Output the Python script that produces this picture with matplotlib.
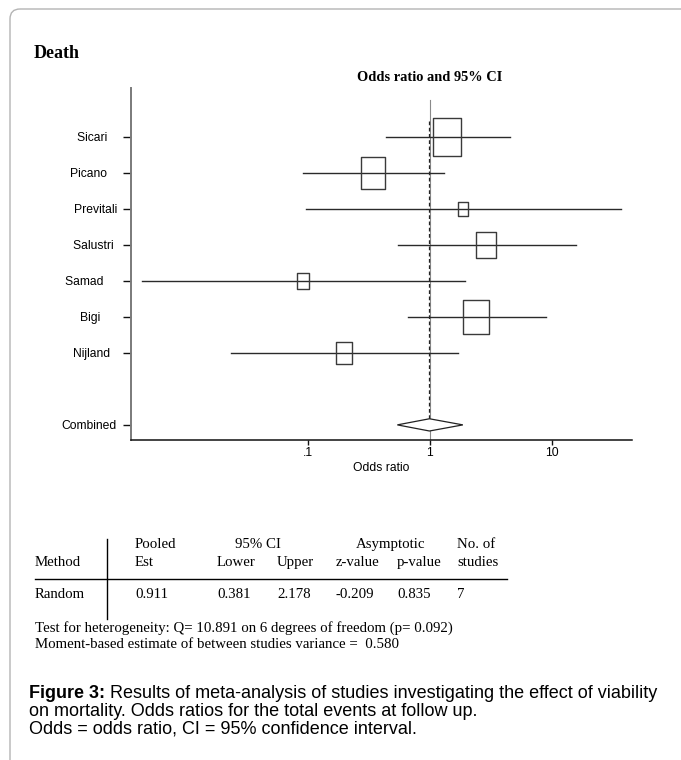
import matplotlib
matplotlib.use('Agg')
import matplotlib.pyplot as plt
import numpy as np
from matplotlib.path import Path
from matplotlib.patches import FancyBboxPatch

# study level odds ratios and 95% CI
studies = ['Sicari', 'Picano', 'Previtali', 'Salustri', 'Samad', 'Bigi', 'Nijland']
odds = [1.39, 0.344, 1.85, 2.88, 0.0918, 2.40, 0.199]
ci_low = [0.434, 0.0905, 0.0957, 0.547, 0.00438, 0.656, 0.0235]
ci_high = [4.53, 1.30, 36.6, 15.6, 1.92, 8.93, 1.70]
weights = [27.2, 20.3, 3.9, 12.4, 4.5, 23.0, 8.8]

# combined diamond as drawn: lower, estimate, upper
combined = [0.54, 0.99, 1.86]

ytick_labels = ['Sicari   ', 'Picano   ', 'Previtali', 'Salustri ', 'Samad    ',
                'Bigi     ', 'Nijland  ', 'Combined']
xticks = [0.1, 1, 10]
xtick_labels = ['.1', '1', '10']

# summary table
head1 = ['', 'Pooled', '95% CI', '', 'Asymptotic', '', 'No. of']
head2 = ['Method', 'Est', 'Lower', 'Upper', 'z-value', 'p-value', 'studies']
row1 = ['Random', '0.911', '0.381', '2.178', '-0.209', '0.835', '7']
notes = ['Test for heterogeneity: Q= 10.891 on 6 degrees of freedom (p= 0.092)',
         'Moment-based estimate of between studies variance =  0.580']
caption_bold = 'Figure 3:'
caption = [' Results of meta-analysis of studies investigating the effect of viability',
           'on mortality. Odds ratios for the total events at follow up.',
           'Odds = odds ratio, CI = 95% confidence interval.']

W, H = 681, 760
fig = plt.figure(figsize=(W / 100, H / 100), dpi=100)

# overlay in pixel coords for the page texts
tx = fig.add_axes([0, 0, 1, 1])
tx.set_xlim(0, W)
tx.set_ylim(H, 0)
tx.axis('off')

# page border (rounded corner)
tx.add_patch(FancyBboxPatch((10, 9), 720, 800, boxstyle='round,pad=0,rounding_size=10',
                            fill=False, ec='#b4b4b4', lw=1.0))

serif = 'Liberation Serif'
sans = 'Liberation Sans'

tx.text(34, 58, 'Death', fontsize=13, fontweight='bold', family=serif, va='baseline')
tx.text(430, 81, 'Odds ratio and 95% CI', fontsize=10.4, fontweight='bold', family=serif,
        va='baseline', ha='center')

# forest plot
ax = fig.add_axes([131 / W, 1 - 440 / H, (632 - 131) / W, (440 - 88) / H])
ax.set_xscale('log')
ax.set_xlim(0.00354, 45.3)
ax.set_ylim(9.42, -0.36)

rows = np.arange(1, len(studies) + 1)
comb_row = 9

# null line and pooled estimate line
ax.axvline(1, ymin=0, ymax=0.966, color='#8a8a8a', lw=0.8, zorder=1)
ax.plot([combined[1], combined[1]], [0.55, comb_row - 0.17], color='#222222', lw=0.9,
        ls=(0, (3, 2)), zorder=2)

box = Path([(-0.39, -0.5), (0.39, -0.5), (0.39, 0.5), (-0.39, 0.5), (-0.39, -0.5)],
           [Path.MOVETO, Path.LINETO, Path.LINETO, Path.LINETO, Path.CLOSEPOLY])

for i in range(len(studies)):
    ax.plot([ci_low[i], ci_high[i]], [rows[i], rows[i]], color='#2a2a2a', lw=1.0, zorder=3)
    ms = 7.1 * np.sqrt(weights[i]) * 0.72
    ax.plot(odds[i], rows[i], marker=box, ms=ms, mfc='none', mec='#3a3a3a', mew=1.0,
            ls='none', zorder=4)

ax.fill([combined[0], combined[1], combined[2], combined[1]],
        [comb_row, comb_row - 0.17, comb_row, comb_row + 0.17],
        facecolor='white', edgecolor='#222222', lw=0.9, zorder=4)

ax.spines['top'].set_visible(False)
ax.spines['right'].set_visible(False)
ax.spines['left'].set_color('#7a7a7a')
ax.spines['left'].set_linewidth(1.4)
ax.spines['bottom'].set_color('#111111')
ax.spines['bottom'].set_linewidth(1.1)

ax.set_yticks(list(rows) + [comb_row])
ax.set_yticklabels(ytick_labels, family=sans, fontsize=8.7)
ax.tick_params(axis='y', length=5.8, width=1.0, pad=4.3, color='#111111')
ax.set_xticks(xticks)
ax.set_xticklabels(xtick_labels, family=sans, fontsize=8.7)
ax.minorticks_off()
ax.tick_params(axis='x', length=3.6, width=1.0, pad=1.8, color='#111111')
ax.set_xlabel('Odds ratio', family=sans, fontsize=8.7, labelpad=2)

# table below the plot
fs_tab = 10.7
col_x = [35, 135, 217, 277, 336, 397, 457]
head1_x = [35, 135, 235, 277, 356, 397, 457]
for j in range(len(head1)):
    if head1[j]:
        tx.text(head1_x[j], 548, head1[j], family=serif, fontsize=fs_tab, va='baseline')
    tx.text(col_x[j], 566, head2[j], family=serif, fontsize=fs_tab, va='baseline')
    tx.text(col_x[j], 598, row1[j], family=serif, fontsize=fs_tab, va='baseline')
tx.plot([35, 507], [579, 579], color='black', lw=1.0)
tx.plot([107, 107], [539, 619], color='black', lw=1.0)

for k, line in enumerate(notes):
    tx.text(35, 632 + 16 * k, line, family=serif, fontsize=fs_tab, va='baseline')

t0 = tx.text(29, 698, caption_bold, family=sans, fontsize=13, fontweight='bold',
             va='baseline')
tx.annotate(caption[0], xy=(1, 0), xycoords=t0, va='bottom', ha='left',
            family=sans, fontsize=13)
for k, line in enumerate(caption[1:]):
    tx.text(29, 716 + 18 * k, line, family=sans, fontsize=13, va='baseline')

fig.savefig('out.png', dpi=100)
